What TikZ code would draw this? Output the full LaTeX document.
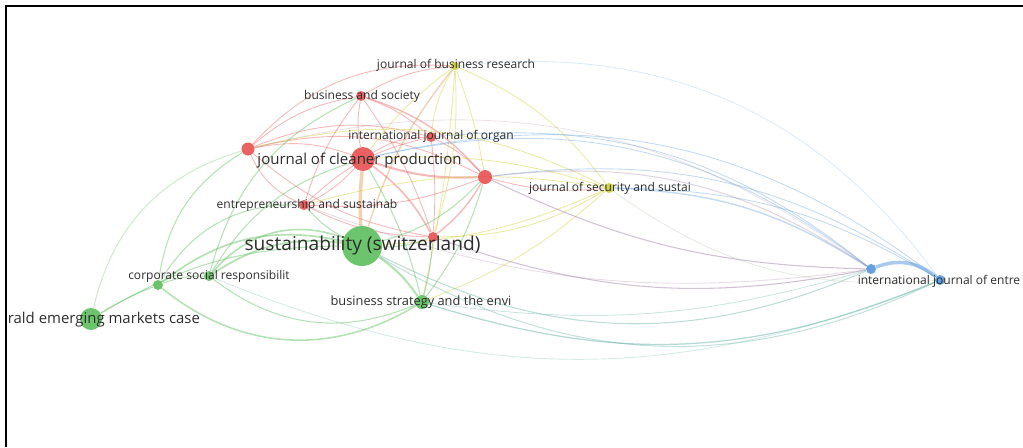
\documentclass[tikz,border=0pt]{standalone}
\usepackage{fontspec}
\setmainfont{Open Sans}
\usepackage{tikz}
\usetikzlibrary{arrows,positioning,calc}
\pgfdeclarelayer{bg}
\pgfsetlayers{bg,main}
\definecolor{nred}{RGB}{232,80,80}
\definecolor{ngreen}{RGB}{92,190,92}
\definecolor{nyellow}{RGB}{208,208,56}
\definecolor{nblue}{RGB}{84,150,220}
\definecolor{ntext}{RGB}{45,45,45}

\begin{document}
\begin{tikzpicture}[dot/.style={circle,inner sep=0pt,opacity=.9},
lbl/.style={text=ntext,inner sep=0pt,font=\fontsize{6.85}{8}\selectfont},
redge/.style={draw=nred,opacity=.4,line width=.5pt},
yedge/.style={draw=nyellow,opacity=.45,line width=.5pt},
gedge/.style={draw=ngreen,opacity=.45,line width=.6pt},
bedge/.style={draw=nblue,opacity=.35,line width=.5pt},
pedge/.style={draw=nred!45!nblue,opacity=.45,line width=.6pt},
oedge/.style={draw=nyellow!50!nred,opacity=.4,line width=.5pt},
tedge/.style={draw=ngreen!50!nblue,opacity=.35,line width=.6pt}]
\useasboundingbox (0,0) rectangle (20.46,-8.94);
\draw[line width=1.3pt] (0.12,-8.94) -- (0.12,-0.12) -- (20.46,-0.12);
% red cluster
\node[dot,fill=nred,minimum size=.48cm] (jcp) at (7.26,-3.18) {};
\node[dot,fill=nred,minimum size=.2cm] (bas) at (7.22,-1.92) {};
\node[dot,fill=nred,minimum size=.2cm] (ijo) at (8.62,-2.74) {};
\node[dot,fill=nred,minimum size=.26cm] (r1) at (4.96,-2.98) {};
\node[dot,fill=nred,minimum size=.28cm] (r2) at (9.70,-3.54) {};
\node[dot,fill=nred,minimum size=.2cm] (eas) at (6.08,-4.10) {};
\node[dot,fill=nred,minimum size=.2cm] (r3) at (8.66,-4.74) {};
% yellow cluster
\node[dot,fill=nyellow,minimum size=.17cm] (jbr) at (9.10,-1.32) {};
\node[dot,fill=nyellow,minimum size=.2cm] (jss) at (12.18,-3.76) {};
% green cluster
\node[dot,fill=ngreen,minimum size=.8cm] (sus) at (7.24,-4.92) {};
\node[dot,fill=ngreen,minimum size=.2cm] (csr) at (4.18,-5.52) {};
\node[dot,fill=ngreen,minimum size=.2cm] (g1) at (3.16,-5.70) {};
\node[dot,fill=ngreen,minimum size=.28cm] (bse) at (8.44,-6.04) {};
\node[dot,fill=ngreen,minimum size=.44cm] (emc) at (1.82,-6.38) {};
% blue cluster
\node[dot,fill=nblue,minimum size=.2cm] (b1) at (17.42,-5.38) {};
\node[dot,fill=nblue,minimum size=.2cm] (ije) at (18.80,-5.60) {};
% labels
\node[lbl] (jbr-t) at (9.12,-1.30) {journal of business research};
\node[lbl] (bas-t) at (7.24,-1.92) {business and society};
\node[lbl] (ijo-t) at (8.62,-2.73) {international journal of organ};
\node[lbl,font=\fontsize{8.55}{10}\selectfont] (jcp-t) at (7.19,-3.22) {journal of cleaner production};
\node[lbl] (eas-t) at (6.14,-4.10) {entrepreneurship and sustainab};
\node[lbl,font=\fontsize{10.9}{12}\selectfont] (sus-t) at (7.25,-4.92) {sustainability (switzerland)};
\node[lbl] (jss-t) at (12.20,-3.76) {journal of security and sustai};
\node[lbl] (csr-t) at (4.18,-5.52) {corporate social responsibilit};
\node[lbl,font=\fontsize{7.3}{8}\selectfont] (bse-t) at (8.42,-6.04) {business strategy and the envi};
\node[lbl,anchor=west,font=\fontsize{8.5}{10}\selectfont] (emc-t) at (0.15,-6.40) {rald emerging markets case};
\node[lbl] (ije-t) at (18.78,-5.62) {international journal of entre};
\begin{pgfonlayer}{bg}
\draw[redge] (jcp) edge[bend left=10] (bas);
\draw[redge] (jcp) edge[bend left=15] (ijo);
\draw[redge] (jcp) edge[bend right=15] (r1);
\draw[redge,line width=1.2pt] (jcp) edge[bend right=10] (r2);
\draw[redge] (jcp) edge[bend left=10] (eas);
\draw[redge,line width=.9pt] (jcp) edge[bend left=12] (r3);
\draw[redge] (bas) edge[bend right=15] (r1);
\draw[redge] (bas) edge[bend left=10] (ijo);
\draw[redge,line width=.8pt] (bas) edge[bend left=15] (r2);
\draw[redge] (bas) edge[bend right=10] (eas);
\draw[redge] (bas) edge[bend left=8] (r3);
\draw[redge] (bas) edge[bend left=12] (jbr);
\draw[redge] (ijo) edge[bend left=10] (r2);
\draw[redge] (ijo) edge[bend right=15] (eas);
\draw[redge] (ijo) edge[bend left=5] (r3);
\draw[redge] (r1) edge[bend left=20] (r2);
\draw[redge] (r1) edge[bend right=20] (eas);
\draw[redge] (r1) edge[bend right=15] (r3);
\draw[redge] (r2) edge[bend left=12] (eas);
\draw[redge,line width=.8pt] (r2) edge[bend left=10] (r3);
\draw[redge] (eas) edge[bend right=12] (r3);
\draw[redge] (r1) edge[bend left=25] (jbr);
\draw[redge] (r2) edge[bend right=10] (jss);
\draw[redge] (r1) edge[bend left=18] (ijo);
% yellow links
\draw[yedge] (jbr) edge[bend right=8] (jcp);
\draw[oedge,line width=.8pt] (jbr) edge[bend right=10] (sus);
\draw[yedge] (jbr) edge[bend left=10] (r3);
\draw[yedge] (jbr) edge[bend left=15] (jss);
\draw[yedge] (jbr) edge[bend left=5] (r2);
\draw[yedge] (jbr) edge[bend left=4] (bse);
\draw[yedge] (jbr) edge[bend right=12] (ijo);
\draw[yedge] (jss) edge[bend right=10] (jcp);
\draw[yedge] (jss) edge[bend left=10] (sus);
\draw[yedge] (jss) edge[bend left=15] (r3);
\draw[yedge] (jss) edge[bend left=10] (bse);
\draw[yedge] (jss) edge[bend right=12] (eas);
\draw[yedge] (jss) edge[bend right=20] (r1);
% green links
\draw[gedge,line width=1pt] (sus) edge[bend right=20] (csr);
\draw[gedge,line width=1pt] (sus) edge[bend right=25] (g1);
\draw[gedge] (sus) edge[bend right=15] (emc);
\draw[gedge,line width=1.2pt] (sus) edge[bend left=10] (bse);
\draw[gedge] (csr) edge[bend right=30] (bse);
\draw[gedge,line width=.9pt] (g1) edge[bend right=35] (bse);
\draw[gedge] (emc) edge[bend left=5] (g1);
\draw[gedge] (csr) edge[bend right=10] (g1);
\draw[gedge] (csr) edge[bend left=20] (jcp);
\draw[gedge] (g1) edge[bend left=25] (r1);
\draw[gedge,opacity=.3] (emc) edge[bend left=30] (r1);
\draw[gedge] (bse) edge[bend right=8] (jcp);
\draw[gedge] (bse) edge[bend right=10] (r2);
\draw[oedge,line width=2pt] (sus) edge[bend left=4] (jcp);
\draw[gedge] (sus) edge[bend left=10] (eas);
\draw[gedge] (sus) edge[bend right=15] (r2);
\draw[gedge] (sus) edge[bend right=10] (r3);
\draw[gedge,line width=.9pt] (csr) edge[bend left=35] (sus);
\draw[gedge] (bse) edge[bend right=5] (r3);
\draw[gedge] (g1) edge[bend left=30] (eas);
\draw[gedge] (csr) edge[bend left=25] (bas);
% blue links
\draw[bedge,line width=2pt,opacity=.5] (b1) edge[bend left=30] (ije);
\draw[bedge] (b1) edge[bend right=25] (jcp);
\draw[bedge,line width=.8pt] (b1) edge[bend right=15] (jss);
\draw[bedge] (b1) edge[bend right=22] (ijo);
\draw[bedge] (ije) edge[bend right=20] (r2);
\draw[bedge,opacity=.2] (ije) edge[bend right=30] (jbr);
\draw[bedge] (ije) edge[bend right=15] (jss);
\draw[bedge] (ije) edge[bend right=25] (jcp);
\draw[pedge] (b1) edge[bend left=15] (r3);
\draw[pedge] (b1) edge[bend left=12] (r2);
\draw[pedge,opacity=.3] (b1) edge[bend right=20] (r2);
\draw[tedge,opacity=.4] (sus) edge[bend right=25] (b1);
\draw[tedge,opacity=.45,line width=.7pt] (bse) edge[bend right=20] (ije);
\draw[tedge] (sus) edge[bend right=28] (ije);
\draw[tedge,opacity=.3,line width=.5pt] (bse) edge[bend right=12] (b1);
\draw[tedge,opacity=.25,line width=.5pt] (csr) edge[bend right=22] (ije);
\draw[draw=nred!50!nblue,opacity=.2,line width=.5pt] (r1) edge[bend left=25] (b1);
\draw[draw=nyellow!50!nblue,opacity=.25,line width=.5pt] (jss) edge[bend right=20] (ije);
\draw[draw=nred!50!nblue,opacity=.25,line width=.5pt] (eas) edge[bend right=14] (b1);
\end{pgfonlayer}
\end{tikzpicture}
\end{document}
